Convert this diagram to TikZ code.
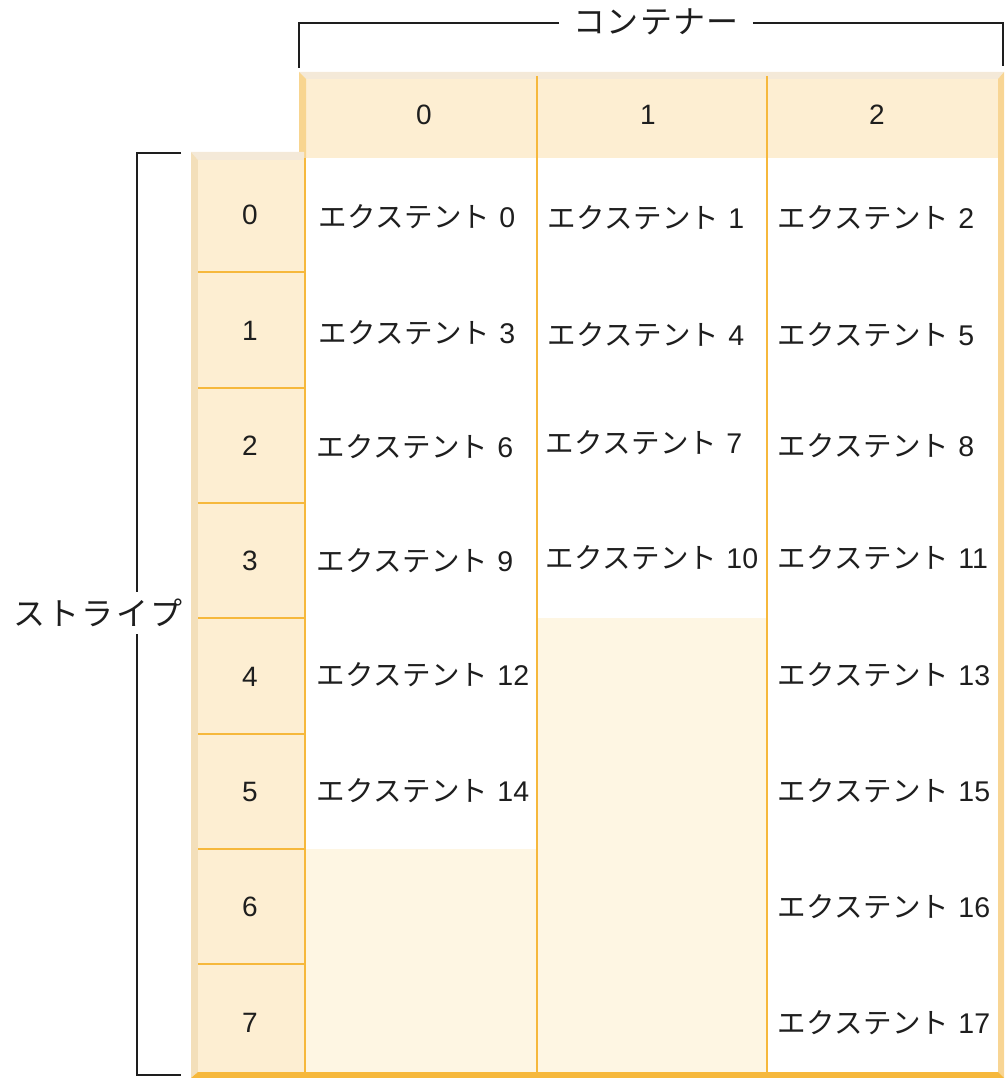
\documentclass[tikz,border=0pt]{standalone}
\usepackage{fontspec}
\setmainfont{Liberation Sans}
\newfontfamily\cjk[LetterSpace=1.5]{Noto Sans CJK JP}
\newfontfamily\cjkw[LetterSpace=4]{Noto Sans CJK JP}
\newfontfamily\cjks[LetterSpace=7]{Noto Sans CJK JP}
\definecolor{hdr}{HTML}{FDEED2}
\definecolor{bevtop}{HTML}{F4E9D8}
\definecolor{bevl}{HTML}{F8D590}
\definecolor{sbevl}{HTML}{F3DFBA}
\definecolor{bevr}{HTML}{F8D594}
\definecolor{cream}{HTML}{FEF6E3}
\definecolor{orng}{HTML}{F6B83C}
\definecolor{ink}{HTML}{1E1E1E}
\newcommand\ext[1]{{\cjk エクステント}\hspace{9pt}#1}
\begin{document}
\begin{tikzpicture}[x=1pt,y=-1pt,
  oline/.style={draw=orng,line width=2pt},
  bk/.style={draw=ink,line width=2pt},
  num/.style={text=ink,font=\fontsize{28}{32}\selectfont,inner sep=0pt},
  extlbl/.style={text=ink,anchor=west,font=\fontsize{28.5}{32}\selectfont,inner sep=0pt},
  title/.style={text=ink,font=\fontsize{32}{36}\selectfont}]
\useasboundingbox (0,0) rectangle (1008,1078);
% header
\fill[bevtop] (299,72) -- (1004,72) -- (998,79) -- (306,79) -- cycle;
\fill[hdr] (306,79) rectangle (998,158);
\fill[bevl] (299,72) -- (306,79) -- (306,158) -- (299,158) -- cycle;
\fill[bevr] (1004,72) -- (1004,1078) -- (998,1072) -- (998,79) -- cycle;
% stripe column
\fill[bevtop] (191,152) -- (304,152) -- (304,160) -- (198,160) -- cycle;
\fill[sbevl] (191,152) -- (198,160) -- (198,1072) -- (191,1078) -- cycle;
\fill[hdr] (198,160) rectangle (305,1072);
% empty cells
\fill[cream] (306,849) rectangle (537,1072);
\fill[cream] (537,618) rectangle (767,1072);
% bottom edge
\fill[orng] (191,1078) -- (198,1072) -- (998,1072) -- (1004,1078) -- cycle;
% grid lines
\draw[oline] (305,158) -- (305,1072);
\draw[oline] (537,76) -- (537,1072);
\draw[oline] (767,76) -- (767,1072);
\foreach \k in {1,...,7}{
  \draw[oline] (198,{157+115.3*\k}) -- (305,{157+115.3*\k});
}
% column headers
\node[num] (h0) at (424,115) {0};
\node[num] (h1) at (648,115) {1};
\node[num] (h2) at (877,115) {2};
% stripe numbers
\foreach \k in {0,...,7}{
  \node[num] (s\k) at (250,{215.3+115.3*\k}) {\k};
}
% extents
\node[extlbl] (e0)  at (318,217) {\ext{0}};
\node[extlbl] (e1)  at (547,218) {\ext{1}};
\node[extlbl] (e2)  at (777,218) {\ext{2}};
\node[extlbl] (e3)  at (318,333) {\ext{3}};
\node[extlbl] (e4)  at (547,335) {\ext{4}};
\node[extlbl] (e5)  at (777,335) {\ext{5}};
\node[extlbl] (e6)  at (316,447) {\ext{6}};
\node[extlbl] (e7)  at (545,443) {\ext{7}};
\node[extlbl] (e8)  at (777,446) {\ext{8}};
\node[extlbl] (e9)  at (316,561) {\ext{9}};
\node[extlbl] (e10) at (545,558) {\ext{10}};
\node[extlbl] (e11) at (777,558) {\ext{11}};
\node[extlbl] (e12) at (316,675) {\ext{12}};
\node[extlbl] (e13) at (777,675) {\ext{13}};
\node[extlbl] (e14) at (316,791) {\ext{14}};
\node[extlbl] (e15) at (777,791) {\ext{15}};
\node[extlbl] (e16) at (777,907) {\ext{16}};
\node[extlbl] (e17) at (777,1023) {\ext{17}};
% container bracket
\node[title,inner xsep=14pt] (cont) at (656,22) {\cjkw コンテナー};
\coordinate (cl) at (299,68);
\coordinate (cr) at (1003,66);
\draw[bk] (cont.west |- 0,23) -- (299,23) -- (cl);
\draw[bk] (cont.east |- 0,23) -- (1003,23) -- (cr);
% stripe bracket
\coordinate (st) at (181,153);
\coordinate (sb) at (181,1075);
\draw[bk] (st) -- (137,153) -- (137,1075) -- (sb);
\node[title,fill=white,inner xsep=1pt,inner ysep=7pt] (str) at (98,613) {\cjks ストライプ};
\end{tikzpicture}
\end{document}
